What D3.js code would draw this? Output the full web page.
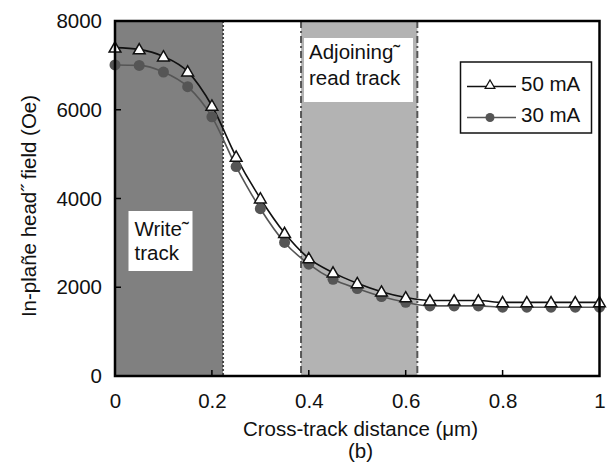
<!DOCTYPE html>
<html>
<head>
<meta charset="utf-8">
<script src="https://cdn.jsdelivr.net/npm/d3@7"></script>
<style>
  body { margin: 0; background: #fff; }
  text { font-family: "Liberation Sans", Arial, sans-serif; }
</style>
</head>
<body>
<svg id="chart"></svg>
<script>
const width = 608;
const height = 465;
const margin = {top: 21, right: 8, bottom: 89, left: 115};
const fontSize = '20.5px';

// data
const distance = [0, 0.05, 0.1, 0.15, 0.2, 0.25, 0.3, 0.35, 0.4, 0.45, 0.5,
                  0.55, 0.6, 0.65, 0.7, 0.75, 0.8, 0.85, 0.9, 0.95, 1];
const field50 = [7400, 7360, 7200, 6860, 6090, 4940, 4000, 3220, 2650, 2330, 2090,
                 1900, 1770, 1700, 1700, 1700, 1660, 1660, 1660, 1660, 1660];
const field30 = [7010, 7000, 6850, 6520, 5840, 4720, 3770, 3010, 2520, 2180, 1970,
                 1790, 1660, 1580, 1580, 1580, 1550, 1550, 1550, 1550, 1550];
const xTicks = [0, 0.2, 0.4, 0.6, 0.8, 1];
const yTicks = [0, 2000, 4000, 6000, 8000];
const writeTrack = [0, 0.223];
const readTrack = [0.384, 0.624];
const seriesNames = ["50 mA", "30 mA"];

const svg = d3.select('#chart')
    .attr('width', width)
    .attr('height', height);

const x = d3.scaleLinear([0, 1], [margin.left, width - margin.right - 0.5]);
const y = d3.scaleLinear([0, 8000], [height - margin.bottom, margin.top]);

// shaded track bands
svg.append('rect')
    .attr('x', x(writeTrack[0])).attr('y', y(8000))
    .attr('width', x(writeTrack[1]) - x(writeTrack[0]))
    .attr('height', y(0) - y(8000))
    .attr('fill', '#808080');
svg.append('rect')
    .attr('x', x(readTrack[0])).attr('y', y(8000))
    .attr('width', x(readTrack[1]) - x(readTrack[0]))
    .attr('height', y(0) - y(8000))
    .attr('fill', '#b3b3b3');

// boundary lines
svg.append('line')
    .attr('x1', x(writeTrack[1])).attr('x2', x(writeTrack[1]))
    .attr('y1', y(8000)).attr('y2', y(0))
    .attr('stroke', '#444').attr('stroke-width', 2)
    .attr('stroke-dasharray', '2,2');
readTrack.forEach(v => {
  svg.append('line')
      .attr('x1', x(v)).attr('x2', x(v))
      .attr('y1', y(8000)).attr('y2', y(0))
      .attr('stroke', '#555').attr('stroke-width', 2)
      .attr('stroke-dasharray', '7,3,2,3');
});

// label boxes
function labelBox(x0, y0, w, h, lines, tx, ty, gap) {
  svg.append('rect')
      .attr('x', x0).attr('y', y0).attr('width', w).attr('height', h)
      .attr('fill', '#fff');
  lines.forEach((t, i) => {
    svg.append('text')
        .attr('x', tx).attr('y', ty + i * gap)
        .attr('font-size', fontSize)
        .attr('fill', '#111')
        .text(t);
  });
}
labelBox(304, 38, 109, 64, ['Adjoining\u02dc', 'read track'], 309, 59, 26);
labelBox(128.5, 211, 64, 60, ['Write\u02dc', 'track'], 134.5, 235.5, 24);

// curves
const line = d3.line()
    .x((d, i) => x(distance[i]))
    .y(d => y(d))
    .curve(d3.curveMonotoneX);

svg.append('path').datum(field30)
    .attr('fill', 'none').attr('stroke', '#555').attr('stroke-width', 1.6)
    .attr('d', line);
svg.append('path').datum(field50)
    .attr('fill', 'none').attr('stroke', '#111').attr('stroke-width', 1.6)
    .attr('d', line);

const tri = d3.symbol().type(d3.symbolTriangle).size(60);

svg.append('g').selectAll('circle')
    .data(field30)
    .join('circle')
    .attr('cx', (d, i) => x(distance[i]))
    .attr('cy', d => y(d))
    .attr('r', 5.5)
    .attr('fill', '#555');

svg.append('g').selectAll('path')
    .data(field50)
    .join('path')
    .attr('d', tri)
    .attr('transform', (d, i) => `translate(${x(distance[i])},${y(d) + 1})`)
    .attr('fill', '#fff')
    .attr('stroke', '#111')
    .attr('stroke-width', 1.5);

// frame
svg.append('rect')
    .attr('x', x(0)).attr('y', y(8000))
    .attr('width', x(1) - x(0)).attr('height', y(0) - y(8000))
    .attr('fill', 'none').attr('stroke', '#000').attr('stroke-width', 2.5);

// axes with inward ticks
const xAxis = svg.append('g')
    .attr('transform', `translate(0,${y(0)})`)
    .call(d3.axisBottom(x).tickValues(xTicks).tickSize(0).tickPadding(17)
      .tickFormat(d3.format('')));
xAxis.select('.domain').remove();
xAxis.selectAll('text').attr('font-size', fontSize).attr('fill', '#111');
xAxis.attr('font-family', null);

xTicks.slice(1, -1).forEach(v => {
  svg.append('line')
      .attr('x1', x(v)).attr('x2', x(v))
      .attr('y1', y(0)).attr('y2', y(0) - 6)
      .attr('stroke', '#000').attr('stroke-width', 1.5);
});

const yAxis = svg.append('g')
    .attr('transform', `translate(${x(0)},0)`)
    .call(d3.axisLeft(y).tickValues(yTicks).tickSize(0).tickPadding(13)
      .tickFormat(d3.format('d')));
yAxis.select('.domain').remove();
yAxis.selectAll('text').attr('font-size', fontSize).attr('fill', '#111');
yAxis.attr('font-family', null);

yTicks.slice(1, -1).forEach(v => {
  svg.append('line')
      .attr('x1', x(0)).attr('x2', x(0) + 6)
      .attr('y1', y(v)).attr('y2', y(v))
      .attr('stroke', '#000').attr('stroke-width', 1.5);
});

// axis titles
svg.append('text')
    .attr('x', 360.5).attr('y', 436)
    .attr('text-anchor', 'middle')
    .attr('font-size', fontSize).attr('fill', '#111')
    .text('Cross-track distance (\u03bcm)');
svg.append('text')
    .attr('x', 360.5).attr('y', 458)
    .attr('text-anchor', 'middle')
    .attr('font-size', fontSize).attr('fill', '#111')
    .text('(b)');
svg.append('text')
    .attr('transform', `translate(35.5,206) rotate(-90)`)
    .attr('text-anchor', 'middle')
    .attr('font-size', fontSize).attr('fill', '#111')
    .text('In-plan\u0303e head\u02dd field (Oe)');

// legend
const legend = svg.append('g');
legend.append('rect')
    .attr('x', 460.5).attr('y', 62).attr('width', 131).attr('height', 71)
    .attr('fill', '#fff').attr('stroke', '#111').attr('stroke-width', 1.5);
[0, 1].forEach(i => {
  const ly = 86.5 + i * 31;
  legend.append('line')
      .attr('x1', 467).attr('x2', 516).attr('y1', ly).attr('y2', ly)
      .attr('stroke', i === 0 ? '#111' : '#555').attr('stroke-width', 1.5);
  if (i === 0) {
    legend.append('path').attr('d', d3.symbol().type(d3.symbolTriangle).size(40))
        .attr('transform', `translate(490,${ly - 1})`)
        .attr('fill', '#fff').attr('stroke', '#111').attr('stroke-width', 1.3);
  } else {
    legend.append('circle').attr('cx', 490).attr('cy', ly).attr('r', 4.5).attr('fill', '#555');
  }
  legend.append('text')
      .attr('x', 521).attr('y', ly + 4)
      .attr('font-size', fontSize).attr('fill', '#111')
      .text(seriesNames[i]);
});
</script>
</body>
</html>
